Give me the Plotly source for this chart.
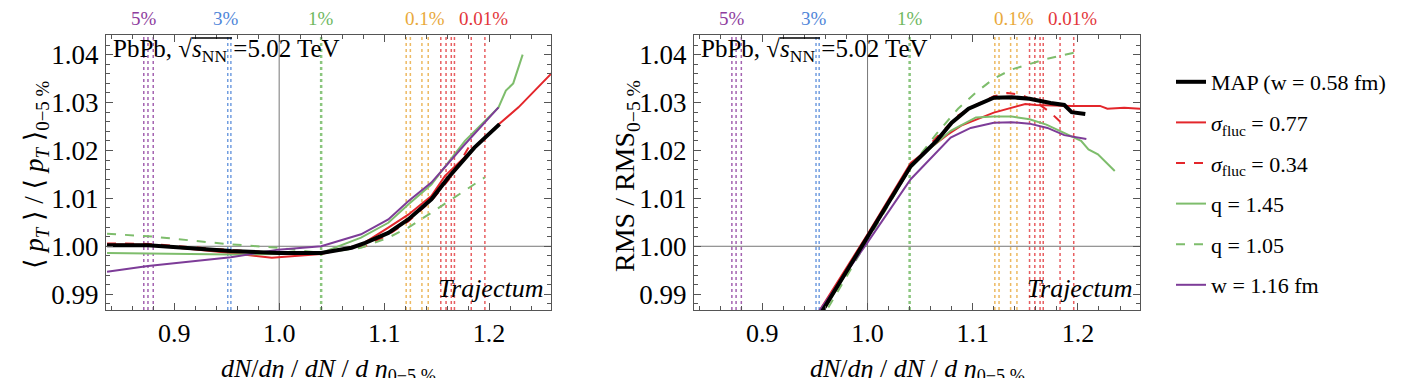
import plotly.graph_objects as go

# ---- data ----
# left panel: <pT> / <pT>_0-5%
map_l_x = [0.836, 0.875, 0.954, 1.0, 1.04, 1.069, 1.082, 1.104, 1.123, 1.145, 1.161, 1.186, 1.21]
map_l_y = [1.0002, 1.0002, 0.999, 0.9986, 0.9986, 0.9997, 1.0007, 1.0028, 1.0056, 1.0098, 1.0143, 1.0206, 1.0255]
sig077_l_x = [0.836, 0.875, 0.954, 0.993, 1.04, 1.078, 1.104, 1.123, 1.145, 1.158, 1.186, 1.209, 1.228, 1.26]
sig077_l_y = [1.0004, 1.0003, 0.9986, 0.9976, 0.9984, 1.0003, 1.0039, 1.0066, 1.0105, 1.0147, 1.0205, 1.0254, 1.029, 1.0362]
sig034_l_x = [0.836, 0.875, 0.954, 1.0, 1.04, 1.082, 1.104, 1.123, 1.145, 1.165, 1.183]
sig034_l_y = [1.0006, 1.0005, 0.9992, 0.9987, 0.9986, 1.0, 1.0024, 1.0052, 1.0095, 1.0148, 1.0216]
q145_l_x = [0.836, 0.875, 0.954, 0.999, 1.04, 1.078, 1.104, 1.123, 1.145, 1.177, 1.209, 1.216, 1.223, 1.232]
q145_l_y = [0.9986, 0.9985, 0.9983, 0.9984, 0.9986, 1.0018, 1.0049, 1.0087, 1.0129, 1.022, 1.029, 1.0325, 1.034, 1.040]
q105_l_x = [0.836, 0.875, 0.954, 0.999, 1.04, 1.078, 1.104, 1.123, 1.145, 1.196]
q105_l_y = [1.0026, 1.0021, 1.0004, 0.9997, 0.9986, 0.9997, 1.0018, 1.0039, 1.007, 1.0144]
w116_l_x = [0.836, 0.875, 0.954, 0.999, 1.04, 1.078, 1.104, 1.123, 1.145, 1.177, 1.209]
w116_l_y = [0.9947, 0.9959, 0.9977, 0.9993, 1.0, 1.0025, 1.0056, 1.0094, 1.0133, 1.0213, 1.029]

# right panel: RMS / RMS_0-5%
map_r_x = [0.95, 1.0, 1.041, 1.066, 1.08, 1.096, 1.12, 1.137, 1.154, 1.174, 1.187, 1.194, 1.207]
map_r_y = [0.984, 1.0018, 1.0167, 1.0221, 1.0258, 1.0287, 1.031, 1.0311, 1.0308, 1.0299, 1.0295, 1.028, 1.0276]
sig077_r_x = [0.947, 1.0, 1.041, 1.076, 1.089, 1.12, 1.15, 1.16, 1.194, 1.221, 1.228, 1.244, 1.26]
sig077_r_y = [0.984, 1.0025, 1.0174, 1.0233, 1.0252, 1.0279, 1.0297, 1.0295, 1.0293, 1.0293, 1.0287, 1.0289, 1.0287]
sig034_r_x = [0.951, 1.0, 1.041, 1.066, 1.086, 1.103, 1.12, 1.133, 1.147, 1.16, 1.174, 1.186]
sig034_r_y = [0.984, 1.0018, 1.0168, 1.0228, 1.0273, 1.0295, 1.0313, 1.032, 1.0316, 1.0301, 1.0279, 1.0254]
q145_r_x = [0.951, 1.0, 1.041, 1.06, 1.079, 1.103, 1.12, 1.137, 1.154, 1.17, 1.187, 1.203, 1.21, 1.219, 1.235]
q145_r_y = [0.984, 1.0016, 1.0165, 1.0205, 1.0241, 1.0269, 1.0271, 1.0271, 1.0265, 1.0254, 1.0237, 1.022, 1.0202, 1.0192, 1.0157]
q105_r_x = [0.954, 1.0, 1.041, 1.066, 1.086, 1.103, 1.12, 1.137, 1.154, 1.17, 1.194, 1.198]
q105_r_y = [0.984, 1.0012, 1.0165, 1.0236, 1.0287, 1.0321, 1.035, 1.0369, 1.038, 1.0391, 1.0403, 1.0405]
w116_r_x = [0.946, 1.0, 1.041, 1.079, 1.098, 1.12, 1.137, 1.154, 1.171, 1.187, 1.208]
w116_r_y = [0.984, 1.0008, 1.014, 1.0227, 1.0247, 1.0258, 1.0259, 1.0256, 1.0247, 1.0232, 1.0224]

# centrality percentile markers (dotted verticals) and their labels
pct_lines = {
    "5%": [0.871, 0.875, 0.880],
    "3%": [0.951, 0.954],
    "1%": [1.040],
    "0.1%": [1.121, 1.125, 1.136, 1.142],
    "0.01%": [1.154, 1.159, 1.164, 1.167, 1.183, 1.196],
}
pct_label_x = {"5%": 0.871, "3%": 0.949, "1%": 1.040, "0.1%": 1.139, "0.01%": 1.195}
pct_colors = {"5%": "#8e3d9e", "3%": "#4f86d9", "1%": "#6fb85f", "0.1%": "#e9a93b", "0.01%": "#e3363a"}

ref_x = 1.0
ref_y = 1.0

names = ["MAP (w = 0.58 fm)", "<i>σ</i><sub>fluc</sub> = 0.77", "<i>σ</i><sub>fluc</sub> = 0.34",
         "q = 1.45", "q = 1.05", "w = 1.16 fm"]
colors = ["black", "#e3262b", "#e3262b", "#7ebd6c", "#7ebd6c", "#7d3c98"]
dashes = ["solid", "solid", "dash", "solid", "dash", "solid"]
widths = [4, 2, 2, 2, 2, 2]

left_curves = [(map_l_x, map_l_y), (sig077_l_x, sig077_l_y), (sig034_l_x, sig034_l_y),
               (q145_l_x, q145_l_y), (q105_l_x, q105_l_y), (w116_l_x, w116_l_y)]
right_curves = [(map_r_x, map_r_y), (sig077_r_x, sig077_r_y), (sig034_r_x, sig034_r_y),
                (q145_r_x, q145_r_y), (q105_r_x, q105_r_y), (w116_r_x, w116_r_y)]

SERIF = "Liberation Serif, Times New Roman, DejaVu Serif, serif"
W, H = 1412, 378

fig = go.Figure()

# draw the non-MAP curves first so MAP sits on top
order = [1, 2, 3, 4, 5, 0]
for i in order:
    for (cx, cy), xa, ya, show in [(left_curves[i], "x", "y", True), (right_curves[i], "x2", "y2", False)]:
        fig.add_trace(go.Scatter(
            x=cx, y=cy, xaxis=xa, yaxis=ya, mode="lines", name=names[i],
            line=dict(color=colors[i], width=widths[i], dash=dashes[i]),
            showlegend=show, legendgroup=str(i), legendrank=i,
        ))

for xa, ya in [("x", "y"), ("x2", "y2")]:
    for key, xs in pct_lines.items():
        for xv in xs:
            fig.add_shape(type="line", xref=xa, yref=ya + " domain", x0=xv, x1=xv, y0=0, y1=1,
                          line=dict(color=pct_colors[key], width=2.5 if key == "1%" else 1.5, dash="dot"),
                          opacity=0.8, layer="below")
        fig.add_annotation(x=pct_label_x[key], xref=xa, y=1 - 11 / H, yref="paper", text=key,
                           xanchor="center", yanchor="middle", showarrow=False,
                           font=dict(family=SERIF, size=19, color=pct_colors[key]))
    fig.add_shape(type="line", xref=xa, yref=ya + " domain", x0=ref_x, x1=ref_x, y0=0, y1=1,
                  line=dict(color="#777", width=1), layer="below")
    fig.add_shape(type="line", xref=xa + " domain", yref=ya, x0=0, x1=1, y0=ref_y, y1=ref_y,
                  line=dict(color="#777", width=1), layer="below")

ydom = [(H - 302) / H, (H - 27) / H]
doms = [[98 / W, 543 / W], [686 / W, 1132 / W]]


def xaxis_style(dom, anchor):
    return dict(domain=dom, anchor=anchor, range=[0.835, 1.259], tick0=0.9, dtick=0.1, tickformat=".1f",
                ticks="inside", ticklen=7, tickcolor="#555", showline=True, linecolor="#555", mirror="allticks",
                minor=dict(ticks="inside", dtick=0.02, tick0=0.9, ticklen=4, tickcolor="#555"),
                showgrid=False, zeroline=False, ticklabelstandoff=0,
                tickfont=dict(family=SERIF, size=26, color="black"))


def yaxis_style(anchor):
    return dict(domain=ydom, anchor=anchor, range=[0.9867, 1.0441], tick0=0.99, dtick=0.01, tickformat=".2f",
                ticks="inside", ticklen=7, tickcolor="#555", showline=True, linecolor="#555", mirror="allticks",
                minor=dict(ticks="inside", dtick=0.002, tick0=0.99, ticklen=4, tickcolor="#555"),
                showgrid=False, zeroline=False, ticklabelstandoff=1,
                tickfont=dict(family=SERIF, size=27, color="black"))


fig.update_layout(
    width=W, height=H, margin=dict(l=0, r=0, t=0, b=0),
    paper_bgcolor="white", plot_bgcolor="white",
    xaxis=xaxis_style(doms[0], "y"), yaxis=yaxis_style("x"),
    xaxis2=xaxis_style(doms[1], "y2"), yaxis2=yaxis_style("x2"),
    legend=dict(x=1163 / W, y=1 - 53 / H, xanchor="left", yanchor="top", tracegroupgap=9,
                font=dict(family=SERIF, size=22, color="black"), bgcolor="rgba(0,0,0,0)"),
)

xtitle = "<i>dN</i>/<i>dη</i> / <i>dN</i> / <i>d η</i><sub>0−5 %</sub>"
for dom in doms:
    fig.add_annotation(x=(dom[0] + dom[1]) / 2, y=1 - 362 / H, xref="paper", yref="paper", text=xtitle,
                       xanchor="center", yanchor="middle", showarrow=False,
                       font=dict(family=SERIF, size=26, color="black"))
    fig.add_annotation(x=dom[0] + 5 / W, y=1 - 42 / H, xref="paper", yref="paper", xanchor="left",
                       yanchor="middle", text="PbPb, √<i>s</i><sub>NN</sub> =5.02 TeV", showarrow=False,
                       font=dict(family=SERIF, size=25, color="black"))
    # vinculum of the square root
    fig.add_shape(type="line", xref="paper", yref="paper", x0=dom[0] + 86 / W, x1=dom[0] + 126 / W,
                  y0=1 - 30 / H, y1=1 - 30 / H, line=dict(color="black", width=1.5))
    fig.add_annotation(x=dom[1] - 6 / W, y=1 - 280 / H, xref="paper", yref="paper", xanchor="right",
                       yanchor="middle", text="<i>Trajectum</i>", showarrow=False,
                       font=dict(family=SERIF, size=26, color="black"))

fig.add_annotation(x=28 / W, y=1 - 167 / H, xref="paper", yref="paper", textangle=-90, showarrow=False,
                   xanchor="center", yanchor="middle",
                   text="⟨ <i>p<sub>T</sub></i> ⟩ / ⟨ <i>p<sub>T</sub></i> ⟩<sub>0−5 %</sub>",
                   font=dict(family=SERIF, size=27, color="black"))
fig.add_annotation(x=618 / W, y=1 - 168 / H, xref="paper", yref="paper", textangle=-90, showarrow=False,
                   xanchor="center", yanchor="middle",
                   text="RMS / RMS<sub>0−5 %</sub>",
                   font=dict(family=SERIF, size=28, color="black"))

fig.write_html("out.html")
